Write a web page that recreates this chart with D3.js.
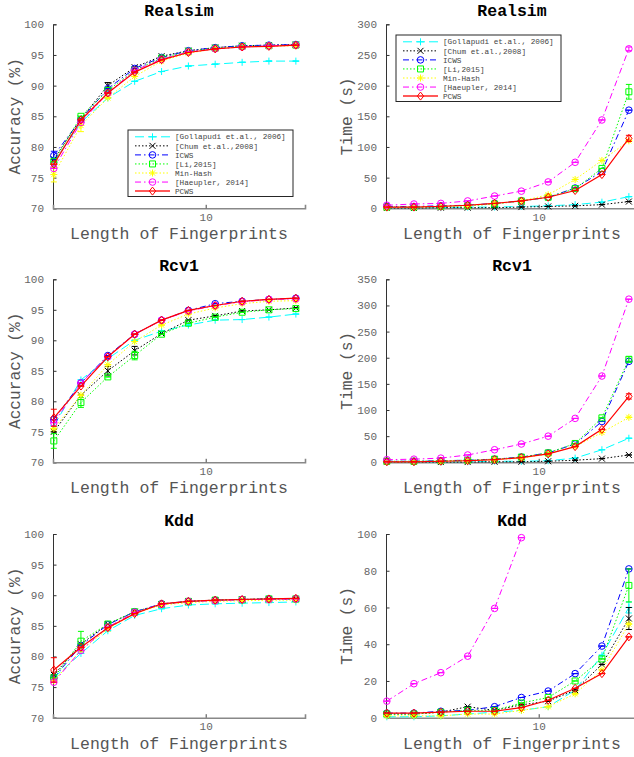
<!DOCTYPE html>
<html>
<head>
<meta charset="utf-8">
<script src="https://cdn.jsdelivr.net/npm/d3@7"></script>
<style>
  body { margin: 0; background: #fff; }
  text { font-family: "Liberation Mono", "Courier New", monospace; }
</style>
</head>
<body>
<div id="chart"></div>
<script>
// fingerprint lengths (x axis, log scale)
const lengths = [1.41, 2, 2.83, 4, 5.66, 8, 11.3, 16, 22.6, 32];
const xTicks = [10];

const methods = ["[Gollapudi et.al., 2006]", "[Chum et.al.,2008]", "ICWS", "[Li,2015]",
  "Min-Hash", "[Haeupler, 2014]", "PCWS"];

const accTicks = [70, 75, 80, 85, 90, 95, 100];
const realsimTimeTicks = [0, 50, 100, 150, 200, 250, 300];
const rcv1TimeTicks = [0, 50, 100, 150, 200, 250, 300, 350];
const kddTimeTicks = [0, 20, 40, 60, 80, 100];

// one row per method, same order as methods
const realsimAcc = [
  [77.5, 84.0, 88.0, 90.7, 92.3, 93.2, 93.5, 93.8, 94.0, 94.0],
  [78.0, 84.6, 90.0, 93.0, 94.8, 95.7, 96.2, 96.5, 96.6, 96.7],
  [78.6, 84.5, 89.5, 92.8, 94.6, 95.7, 96.2, 96.5, 96.6, 96.7],
  [77.6, 85.0, 89.2, 92.5, 94.5, 95.6, 96.1, 96.4, 96.5, 96.6],
  [75.5, 83.5, 88.0, 91.5, 94.0, 95.3, 96.0, 96.3, 96.4, 96.5],
  [76.5, 84.0, 88.8, 92.5, 94.3, 95.5, 96.0, 96.3, 96.5, 96.6],
  [77.2, 84.4, 88.8, 92.2, 94.2, 95.4, 96.0, 96.3, 96.4, 96.6]
];
const realsimTime = [
  [1, 1, 1, 2, 2, 3, 4, 6, 10, 19],
  [0.5, 0.5, 1, 1, 1, 2, 3, 4, 6, 11],
  [3, 3, 4, 5, 8, 12, 18, 33, 60, 160],
  [2, 2, 3, 4, 7, 12, 18, 32, 65, 190],
  [1, 2, 3, 4, 8, 12, 22, 47, 78, 110],
  [5, 7, 8, 12, 20, 28, 43, 75, 144, 260],
  [2, 2, 3, 5, 8, 12, 18, 29, 55, 114]
];
const rcv1Acc = [
  [76.0, 83.5, 87.0, 90.0, 91.5, 92.5, 93.3, 93.4, 93.8, 94.3],
  [75.0, 81.0, 85.0, 88.3, 91.1, 93.3, 94.0, 94.8, 95.0, 95.3],
  [77.0, 83.0, 87.5, 91.0, 93.3, 94.9, 96.0, 96.4, 96.7, 96.9],
  [73.5, 79.8, 84.0, 87.5, 91.0, 92.8, 93.8, 94.6, 95.0, 95.2],
  [75.5, 81.0, 86.0, 89.8, 92.5, 94.3, 95.3, 96.0, 96.4, 96.5],
  [76.5, 83.0, 87.3, 91.0, 93.3, 94.8, 95.7, 96.3, 96.7, 96.8],
  [77.3, 82.5, 87.3, 91.0, 93.3, 94.9, 95.7, 96.4, 96.7, 96.9]
];
const rcv1Time = [
  [0.5, 0.5, 1, 1, 2, 2, 3, 8, 24, 46],
  [0.5, 0.5, 0.5, 0.5, 1, 1, 2, 4, 7, 14],
  [2, 2, 3, 4, 6, 10, 18, 35, 78, 193],
  [2, 2, 3, 4, 6, 10, 18, 36, 85, 197],
  [1, 1, 2, 3, 5, 8, 16, 30, 57, 86],
  [5, 6, 8, 14, 24, 35, 50, 84, 165, 312],
  [1, 1, 2, 3, 5, 9, 16, 30, 63, 126]
];
const kddAcc = [
  [76.5, 80.5, 84.2, 86.7, 87.8, 88.4, 88.6, 88.7, 88.8, 88.9],
  [77.0, 82.0, 85.3, 87.3, 88.5, 89.0, 89.2, 89.3, 89.4, 89.4],
  [76.5, 81.8, 85.2, 87.3, 88.6, 89.0, 89.2, 89.3, 89.4, 89.4],
  [76.5, 82.5, 85.3, 87.3, 88.5, 89.0, 89.2, 89.3, 89.4, 89.4],
  [76.0, 81.0, 84.5, 87.0, 88.4, 88.8, 89.0, 89.1, 89.2, 89.2],
  [75.8, 81.0, 84.8, 87.2, 88.5, 89.0, 89.1, 89.3, 89.3, 89.4],
  [77.8, 81.5, 84.7, 87.0, 88.6, 89.0, 89.2, 89.3, 89.4, 89.5]
];
const kddTime = [
  [0.5, 0.5, 1, 2, 3, 4, 6, 15, 34, 60],
  [2, 2, 3, 6, 4, 7, 9, 15, 29, 54],
  [2.5, 2.5, 3.5, 4, 6, 11, 14.5, 24, 39, 81],
  [2, 2, 3, 4, 4, 8, 11, 20, 32, 72],
  [1, 1, 1, 2, 2, 4, 6, 13, 26, 51],
  [9, 18.5, 24.5, 33.5, 59.5, 98, null, null, null, null],
  [2.5, 2.5, 3, 3.5, 3.5, 5.5, 9.5, 16, 24, 44]
];

// visible error bars: [method, point, half height]
const realsimAccErr = [[0, 0, 0.8], [2, 0, 0.7], [4, 0, 1.2], [4, 1, 1.0], [1, 2, 0.5]];
const realsimTimeErr = [[3, 9, 12], [6, 9, 5], [5, 9, 3]];
const rcv1AccErr = [[6, 0, 1.4], [3, 0, 1.2], [3, 1, 0.8], [1, 2, 0.7], [3, 3, 0.7], [1, 3, 0.7]];
const rcv1TimeErr = [[3, 9, 5], [6, 9, 5]];
const kddAccErr = [[3, 1, 1.6], [6, 0, 2.0]];
const kddTimeErr = [[3, 9, 9], [1, 9, 6], [0, 9, 3]];

const colors = ["#00ffff", "#000000", "#0000ff", "#00ff00", "#ffff00", "#ff00ff", "#ff0000"];
const dashes = ["9,4", "1.5,2", "6,3,1.5,3", "1.5,2", "1.5,2", "6,3,1.5,3", null];
const markers = ["plus", "cross", "circle", "square", "star", "circle", "diamond"];

const panels = [
  {title: "Realsim", ylabel: "Accuracy (%)", values: realsimAcc, errs: realsimAccErr, ticks: accTicks, col: 0, row: 0, legend: [128, 130]},
  {title: "Realsim", ylabel: "Time (s)", values: realsimTime, errs: realsimTimeErr, ticks: realsimTimeTicks, col: 1, row: 0, legend: [396, 35]},
  {title: "Rcv1", ylabel: "Accuracy (%)", values: rcv1Acc, errs: rcv1AccErr, ticks: accTicks, col: 0, row: 1},
  {title: "Rcv1", ylabel: "Time (s)", values: rcv1Time, errs: rcv1TimeErr, ticks: rcv1TimeTicks, col: 1, row: 1},
  {title: "Kdd", ylabel: "Accuracy (%)", values: kddAcc, errs: kddAccErr, ticks: accTicks, col: 0, row: 2},
  {title: "Kdd", ylabel: "Time (s)", values: kddTime, errs: kddTimeErr, ticks: kddTimeTicks, col: 1, row: 2}
];

const width = 634, height = 757;
const cols = [[53, 305], [386, 638]];
const rows = [[24.3, 208.3], [279.3, 462.3], [534, 717.7]];

const svg = d3.select("#chart")
  .append("svg")
    .attr("width", width)
    .attr("height", height);

const markerPaths = {
  plus: "M-3.5,0H3.5M0,-3.5V3.5",
  cross: "M-3,-3L3,3M-3,3L3,-3",
  square: "M-3,-3H3V3H-3Z",
  star: "M-3.5,0H3.5M0,-3.5V3.5M-2.6,-2.6L2.6,2.6M-2.6,2.6L2.6,-2.6",
  diamond: "M0,-4L3.2,0L0,4L-3.2,0Z"
};

function drawMarker(g, type, cx, cy, color) {
  if (type === "circle") {
    g.append("circle")
      .attr("cx", cx).attr("cy", cy).attr("r", 3.3)
      .attr("fill", "none").attr("stroke", color).attr("stroke-width", 1);
  } else {
    g.append("path")
      .attr("d", markerPaths[type])
      .attr("transform", `translate(${cx},${cy})`)
      .attr("fill", "none").attr("stroke", color).attr("stroke-width", 1);
  }
}

panels.forEach(p => {
  const [x0, x1] = cols[p.col];
  const [yTop, yBot] = rows[p.row];
  const ext = d3.extent(p.ticks);

  const x = d3.scaleLog().domain([1.395, 36]).range([x0, x1]);
  const y = d3.scaleLinear().domain(ext).range([yBot, yTop]);

  const g = svg.append("g");

  // axes (MATLAB style, ticks inward, no box)
  const yAxis = g.append("g")
    .attr("transform", `translate(${x0},0)`)
    .call(d3.axisLeft(y).tickValues(p.ticks).tickSize(-3.5).tickPadding(9));
  yAxis.select(".domain").attr("stroke", "#333");
  yAxis.selectAll(".tick line").attr("stroke", "#333");
  yAxis.selectAll("text")
    .attr("font-family", "Liberation Mono, monospace")
    .attr("font-size", "11px")
    .attr("fill", "#666");

  const xAxis = g.append("g")
    .attr("transform", `translate(0,${yBot})`)
    .call(d3.axisBottom(x).tickValues(xTicks).tickFormat(d3.format("d")).tickSize(-3.5).tickPadding(5));
  xAxis.select(".domain").attr("stroke", "#888").attr("stroke-width", 1.6);
  xAxis.selectAll(".tick line").attr("stroke", "#444");
  xAxis.selectAll("text")
    .attr("font-family", "Liberation Mono, monospace")
    .attr("font-size", "11px")
    .attr("fill", "#666");

  // series
  p.values.forEach((vals, i) => {
    const pts = vals.map((v, j) => ({x: lengths[j], y: v, j: j}));
    const line = d3.line()
      .defined(d => d.y != null)
      .x(d => x(d.x))
      .y(d => y(d.y));

    g.append("path")
      .datum(pts)
      .attr("d", line)
      .attr("fill", "none")
      .attr("stroke", colors[i])
      .attr("stroke-width", i === 6 ? 1.2 : 1)
      .attr("stroke-dasharray", dashes[i]);

    pts.filter(d => d.y != null).forEach(d => {
      const e = p.errs.find(r => r[0] === i && r[1] === d.j);
      const err = e ? e[2] : 0;
      const cx = x(d.x);
      g.append("path")
        .attr("d", `M${cx},${y(d.y - err)}V${y(d.y + err)}M${cx - 3},${y(d.y - err)}H${cx + 3}M${cx - 3},${y(d.y + err)}H${cx + 3}`)
        .attr("fill", "none")
        .attr("stroke", colors[i])
        .attr("stroke-width", 1);
      drawMarker(g, markers[i], cx, y(d.y), colors[i]);
    });
  });

  // title & labels
  g.append("text")
    .attr("x", x0 + 126)
    .attr("y", yTop - 8)
    .attr("text-anchor", "middle")
    .attr("font-size", "16.5px")
    .attr("font-weight", "bold")
    .attr("fill", "#000")
    .text(p.title);

  g.append("text")
    .attr("x", x0 + 126)
    .attr("y", yBot + 31)
    .attr("text-anchor", "middle")
    .attr("font-size", "16.5px")
    .attr("fill", "#555")
    .text("Length of Fingerprints");

  g.append("text")
    .attr("transform", `translate(${p.col === 0 ? 20 : 352},${(yTop + yBot) / 2}) rotate(-90)`)
    .attr("text-anchor", "middle")
    .attr("font-size", "16.2px")
    .attr("fill", "#555")
    .text(p.ylabel);

  // legend
  if (p.legend) {
    const [lx, ly] = p.legend;
    const lg = g.append("g");
    lg.append("rect")
      .attr("x", lx).attr("y", ly)
      .attr("width", 165).attr("height", 66.5)
      .attr("fill", "#fff")
      .attr("stroke", "#262626")
      .attr("stroke-width", 1);
    methods.forEach((m, i) => {
      const yy = ly + 6.8 + i * 9.05;
      lg.append("line")
        .attr("x1", lx + 7).attr("x2", lx + 42)
        .attr("y1", yy).attr("y2", yy)
        .attr("stroke", i === 6 ? "#ff5a5a" : colors[i])
        .attr("stroke-width", i === 6 ? 2 : 1)
        .attr("stroke-dasharray", dashes[i]);
      drawMarker(lg, markers[i], lx + 24.5, yy, colors[i]);
      lg.append("text")
        .attr("x", lx + 47)
        .attr("y", yy)
        .attr("dy", "0.35em")
        .attr("font-size", "7.7px")
        .attr("fill", "#444")
        .text(m);
    });
  }
});
</script>
</body>
</html>
